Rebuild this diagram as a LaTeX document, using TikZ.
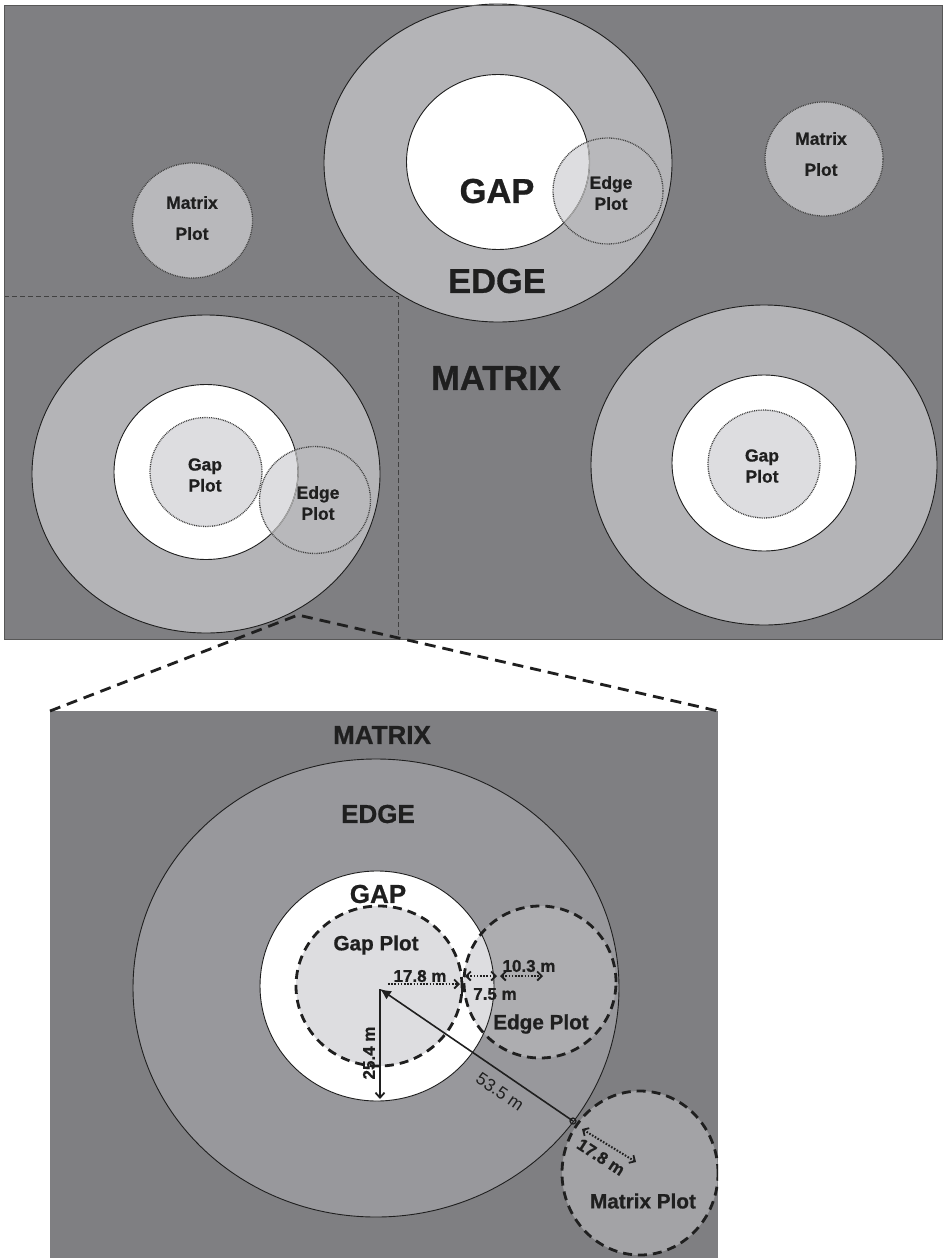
\documentclass[tikz,border=0pt]{standalone}
\usepackage{fontspec}
\setmainfont{Liberation Sans}[BoldFeatures={FakeBold=0.8}]
\usetikzlibrary{arrows.meta}
\definecolor{matrixbg}{HTML}{7F7F82}
\definecolor{ringA}{HTML}{B4B4B7}
\definecolor{plotA}{HTML}{B8B8BB}
\definecolor{plotL}{HTML}{DDDDE0}
\definecolor{ringB}{HTML}{98989C}
\definecolor{plotB}{HTML}{ADADB0}
\definecolor{plotM}{HTML}{A3A3A6}
\definecolor{ink}{HTML}{1F1F1F}
\begin{document}
\begin{tikzpicture}[x=1pt,y=-1pt,
  outl/.style={draw=ink, line width=0.9pt},
  dotc/.style={draw=ink!85, line width=1.3pt, dash pattern=on 0.9pt off 0.9pt},
  dashc/.style={draw=ink, line width=2.8pt, dash pattern=on 9pt off 6pt},
  zoomline/.style={draw=ink, line width=2.8pt, dash pattern=on 11pt off 7pt},
  divline/.style={draw=ink!85, line width=0.9pt, dash pattern=on 5pt off 3pt},
  bigA/.style={font=\bfseries\fontsize{34.5}{36}\selectfont, text=ink, inner sep=0pt},
  smallA/.style={font=\bfseries\fontsize{17.5}{21}\selectfont, text=ink, inner sep=0pt, align=center},
  smallAw/.style={font=\bfseries\fontsize{17.5}{31}\selectfont, text=ink, inner sep=0pt, align=center},
  bigB/.style={font=\bfseries\fontsize{26}{28}\selectfont, text=ink, inner sep=0pt},
  midB/.style={font=\bfseries\fontsize{20.7}{23}\selectfont, text=ink, inner sep=0pt},
  meas/.style={font=\bfseries\fontsize{17}{19}\selectfont, text=ink, inner sep=0pt},
  measr/.style={font=\fontsize{17.5}{19}\selectfont, text=ink, inner sep=0pt},
  dotarrow/.style={draw=ink, line width=2pt, dash pattern=on 1.6pt off 1.6pt},
  barb/.tip={Straight Barb[length=4.5pt,width=9pt,line width=1.8pt]}
]
\useasboundingbox (0,0) rectangle (943,1258);
\fill[white] (0,0) rectangle (943,1258);

% ---------- top panel ----------
\coordinate (tpA) at (4,5);
\coordinate (tpB) at (942,639);
\fill[matrixbg] (tpA) rectangle (tpB);

\def\EringT{(498,163) ellipse [x radius=174pt, y radius=159pt]}
\def\EgapT{(498,162) ellipse [x radius=91.5pt, y radius=87.5pt]}
\def\EedgeT{(608,191) ellipse [x radius=55pt, y radius=53pt]}

\def\EringL{(206,474) ellipse [x radius=174pt, y radius=159pt]}
\def\EgapL{(206,472) ellipse [x radius=92pt, y radius=87.5pt]}
\def\EgplL{(206,472) ellipse [x radius=56pt, y radius=54.5pt]}
\def\EedgeL{(315,500) ellipse [x radius=55.5pt, y radius=53.5pt]}

\def\EringR{(764,465) ellipse [x radius=173pt, y radius=160pt]}
\def\EgapR{(764,463) ellipse [x radius=92pt, y radius=88pt]}
\def\EgplR{(764,464) ellipse [x radius=56pt, y radius=54pt]}

\def\EmpTL{(192.5,220.5) ellipse [x radius=60pt, y radius=57.5pt]}
\def\EmpTR{(824,159) ellipse [x radius=59pt, y radius=57pt]}

% top centre group
\fill[ringA] \EringT;
\fill[white] \EgapT;
\fill[plotA] \EedgeT;
\begin{scope}\clip \EgapT; \fill[plotL] \EedgeT; \end{scope}
\draw[outl] \EringT;
\draw[outl] \EgapT;
\begin{scope}\clip \EedgeT; \draw[line width=1.2pt, gray!70] \EgapT; \end{scope}
\draw[dotc] \EedgeT;

% left group
\fill[ringA] \EringL;
\fill[white] \EgapL;
\fill[plotL] \EgplL;
\fill[plotA] \EedgeL;
\begin{scope}\clip \EgapL; \fill[plotL] \EedgeL; \end{scope}
\draw[outl] \EringL;
\draw[outl] \EgapL;
\begin{scope}\clip \EedgeL; \draw[line width=1.2pt, gray!70] \EgapL; \end{scope}
\draw[dotc] \EgplL;
\draw[dotc] \EedgeL;

% right group
\fill[ringA] \EringR;
\fill[white] \EgapR;
\fill[plotL] \EgplR;
\draw[outl] \EringR;
\draw[outl] \EgapR;
\draw[dotc] \EgplR;

% matrix plots
\fill[plotA] \EmpTL; \draw[dotc] \EmpTL;
\fill[plotA] \EmpTR; \draw[dotc] \EmpTR;

% divider
\coordinate (dvA) at (4,296);
\coordinate (dvB) at (398,296);
\coordinate (dvC) at (398,639);
\draw[divline] (dvA) -- (dvB) -- (dvC);

\draw[ink!75, line width=0.9pt] (tpA) rectangle (tpB);

% top texts
\node[bigA] (tGAP) at (497,191) {GAP};
\node[bigA] (tEDGE) at (497,281) {EDGE};
\node[bigA] (tMATRIX) at (496,378) {MATRIX};
\node[smallA] (tEP) at (611,193) {Edge\\Plot};
\node[smallAw] (tMPR) at (821,154) {Matrix\\Plot};
\node[smallAw] (tMPL) at (192,218) {Matrix\\Plot};
\node[smallA] (lGP) at (205,475) {Gap\\Plot};
\node[smallA] (lEP) at (318,503) {Edge\\Plot};
\node[smallA] (rGP) at (762,466) {Gap\\Plot};

% ---------- bottom panel ----------
\coordinate (bpA) at (50,711);
\coordinate (bpB) at (718,1258);
\fill[matrixbg] (bpA) rectangle (bpB);

\def\EringB{(376,988) ellipse [x radius=243pt, y radius=229pt]}
\def\EgapB{(377,986) ellipse [x radius=117pt, y radius=115pt]}
\def\EgplB{(379,986) ellipse [x radius=83pt, y radius=80pt]}
\def\EedgeB{(540,982) ellipse [x radius=76pt, y radius=76pt]}
\def\EmatB{(640,1173) ellipse [x radius=78pt, y radius=82pt]}

\fill[ringB] \EringB;
\fill[white] \EgapB;
\fill[plotL] \EgplB;
\fill[plotB] \EedgeB;
\begin{scope}\clip \EgapB; \fill[plotL] \EedgeB; \end{scope}
\fill[plotM] \EmatB;
\draw[outl] \EringB;
\begin{scope}\clip (50,711) rectangle (718,1258);
\draw[outl] \EgapB;
\end{scope}
\draw[dashc] \EgplB;
\draw[dashc] \EedgeB;
\begin{scope}\clip (50,711) rectangle (718,1258);
\draw[dashc] \EmatB;
\end{scope}

% bottom texts
\node[bigB] (bMATRIX) at (382,735) {MATRIX};
\node[bigB] (bEDGE) at (378,814) {EDGE};
\node[bigB] (bGAP) at (378,894) {GAP};
\node[midB] (bGP) at (376,945) {Gap Plot};
\node[midB] (bEP) at (541,1024) {Edge Plot};
\node[midB] (bMP) at (643,1201) {Matrix Plot};

% measurements
\coordinate (C) at (380,989);
\coordinate (Vb) at (380,1099);
\coordinate (H0) at (388,984);
\coordinate (H1) at (460,984);
\coordinate (A1) at (465,976);
\coordinate (A2) at (497,976);
\coordinate (B1) at (500,976);
\coordinate (B2) at (543,976);
\coordinate (P53) at (573,1121);
\coordinate (M1) at (582,1129);
\coordinate (M2) at (636,1162);

\draw[ink, line width=2pt, -{Straight Barb[length=5pt,width=9pt,line width=1.8pt]}] (C) -- (Vb);
\draw[ink, line width=1.6pt, -{Latex[length=11pt,width=10pt]}] (P53) -- (C);
\draw[ink, line width=1.2pt] (P53) circle (3pt);
\draw[dotarrow, -barb] (H0) -- (H1);
\draw[ink, line width=2pt] (462,979) -- (462,994);
\draw[dotarrow, barb-barb] (A1) -- (A2);
\draw[dotarrow, barb-barb] (B1) -- (B2);
\draw[dotarrow, barb-barb] (M1) -- (M2);

\node[meas] (m178) at (420,976) {17.8 m};
\node[meas] (m75) at (495,994) {7.5 m};
\node[meas] (m103) at (529,966) {10.3 m};
\node[meas, rotate=90] (m254) at (369,1053) {25.4 m};
\node[measr, rotate=-34.4] (m535) at (500,1092) {53.5 m};
\node[meas, rotate=-33] (m178b) at (601,1157) {17.8 m};

% zoom lines
\coordinate (zA) at (298,615);
\coordinate (zL) at (50,711);
\coordinate (zR) at (718,711);
\draw[zoomline] (zL) -- (zA) -- (zR);
\end{tikzpicture}
\end{document}
